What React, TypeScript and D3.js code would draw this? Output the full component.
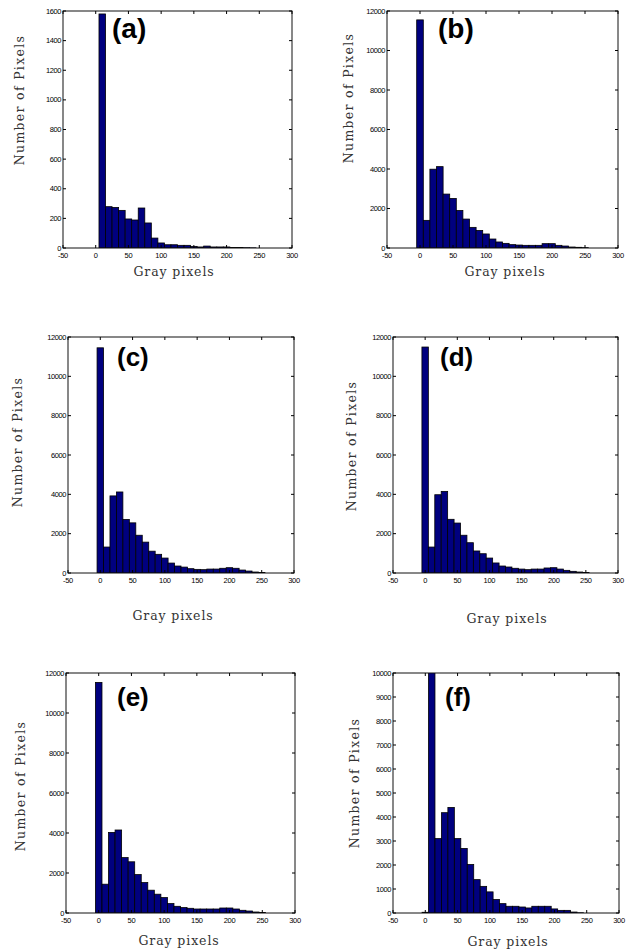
import React from "react";
import * as d3 from "d3";

// histogram bin centres (gray level), shared by all panels
const binCenters = [0, 10, 20, 30, 40, 50, 60, 70, 80, 90, 100, 110, 120, 130, 140, 150, 160, 170, 180, 190, 200, 210, 220, 230, 240, 250];

const countsA = [0, 1580, 279, 274, 254, 196, 189, 270, 169, 67, 34, 22, 22, 18, 18, 11, 7, 13, 7, 7, 7, 3, 3, 2, 1, 0];
const countsB = [11550, 1400, 3990, 4120, 2730, 2510, 1900, 1465, 1045, 890, 710, 455, 305, 235, 170, 150, 135, 135, 135, 220, 220, 135, 100, 50, 35, 17];
const countsC = [11450, 1320, 3920, 4120, 2720, 2550, 1920, 1570, 1110, 950, 760, 505, 355, 300, 220, 185, 170, 200, 200, 240, 270, 240, 150, 100, 50, 30];
const countsD = [11490, 1320, 3980, 4150, 2730, 2540, 1920, 1540, 1120, 980, 760, 510, 355, 305, 240, 200, 170, 200, 200, 255, 270, 200, 135, 85, 50, 30];
const countsE = [11530, 1440, 4030, 4150, 2770, 2560, 1920, 1520, 1140, 940, 770, 470, 335, 270, 235, 200, 200, 200, 200, 250, 250, 200, 135, 100, 50, 20];
const countsF = [30, 12500, 3100, 4180, 4400, 3100, 2690, 2020, 1390, 1110, 880, 560, 390, 280, 280, 250, 210, 280, 280, 280, 170, 110, 110, 40, 10, 0];

const xTicks = [-50, 0, 50, 100, 150, 200, 250, 300];
const yTicksA = [0, 200, 400, 600, 800, 1000, 1200, 1400, 1600];
const yTicksBE = [0, 2000, 4000, 6000, 8000, 10000, 12000];
const yTicksF = [0, 1000, 2000, 3000, 4000, 5000, 6000, 7000, 8000, 9000, 10000];

const panelLetters = ["(a)", "(b)", "(c)", "(d)", "(e)", "(f)"];
const xTitle = "Gray pixels";
const yTitle = "Number of Pixels";

const panels = [
  { counts: countsA, yTicks: yTicksA, box: [63, 292, 11, 248], letter: [112, 38, 28], yl: [20, 100], xl: [174, 276] },
  { counts: countsB, yTicks: yTicksBE, box: [387, 618, 11, 248], letter: [438, 38, 28], yl: [349, 98], xl: [505, 276] },
  { counts: countsC, yTicks: yTicksBE, box: [68, 294, 337, 573], letter: [117, 366, 26], yl: [18, 442], xl: [173, 620] },
  { counts: countsD, yTicks: yTicksBE, box: [393, 618, 337, 573], letter: [440, 366, 26], yl: [352, 446], xl: [507, 623] },
  { counts: countsE, yTicks: yTicksBE, box: [66, 295, 673, 913], letter: [117, 706, 26], yl: [21, 786], xl: [179, 945] },
  { counts: countsF, yTicks: yTicksF, box: [393, 619, 673, 913], letter: [445, 706, 26], yl: [355, 783], xl: [508, 946] },
];

const BAR = "#00007f";
const tickFont = "'Liberation Sans', Arial, sans-serif";
const serif = "'DejaVu Serif', serif";

function Hist({ p, i }) {
  const [l, r, t, b] = p.box;
  const x = d3.scaleLinear().domain([-50, 300]).range([l, r]);
  const yMax = p.yTicks[p.yTicks.length - 1];
  const y = d3.scaleLinear().domain([0, yMax]).range([b, t]);
  const half = 5;
  const tl = 3;
  return (
    <g>
      <clipPath id={"clip" + i}>
        <rect x={l} y={t} width={r - l} height={b - t} />
      </clipPath>
      <g clipPath={`url(#clip${i})`}>
        {binCenters.map((c, k) =>
          p.counts[k] > 0 ? (
            <rect
              key={k}
              x={x(c - half)}
              y={y(p.counts[k])}
              width={x(c + half) - x(c - half)}
              height={b - y(p.counts[k])}
              fill={BAR}
              stroke="#000"
              strokeWidth={0.8}
            />
          ) : null
        )}
      </g>
      <rect x={l} y={t} width={r - l} height={b - t} fill="none" stroke="#111" strokeWidth={1} />
      {xTicks.map((v) => (
        <g key={"x" + v}>
          <line x1={x(v)} x2={x(v)} y1={b} y2={b - tl} stroke="#000" />
          <line x1={x(v)} x2={x(v)} y1={t} y2={t + tl} stroke="#000" />
          <text x={x(v)} y={b + 10} fontSize={7.5} fontFamily={tickFont} textAnchor="middle" letterSpacing={-0.3}>
            {v}
          </text>
        </g>
      ))}
      {p.yTicks.map((v) => (
        <g key={"y" + v}>
          <line x1={l} x2={l + tl} y1={y(v)} y2={y(v)} stroke="#000" />
          <line x1={r} x2={r - tl} y1={y(v)} y2={y(v)} stroke="#000" />
          <text x={l - 2} y={y(v) + 2.5} fontSize={7.5} fontFamily={tickFont} textAnchor="end" letterSpacing={-0.4}>
            {v}
          </text>
        </g>
      ))}
      <text x={p.letter[0]} y={p.letter[1]} fontSize={p.letter[2]} fontWeight="bold" fontFamily={tickFont}>
        {panelLetters[i]}
      </text>
      <text
        transform={`translate(${p.yl[0]},${p.yl[1]}) rotate(-90)`}
        textAnchor="middle"
        dominantBaseline="middle"
        fontSize={12.5}
        letterSpacing={1.3}
        fontFamily={serif}
        fill="#333"
      >
        {yTitle}
      </text>
      <text x={p.xl[0]} y={p.xl[1]} textAnchor="middle" fontSize={12.5} letterSpacing={0.9} fontFamily={serif} fill="#333">
        {xTitle}
      </text>
    </g>
  );
}

export default function App() {
  return (
    <svg width={632} height={952} style={{ position: "absolute", left: 0, top: 0, background: "#fff" }}>
      <rect width={632} height={952} fill="#fff" />
      {panels.map((p, i) => (
        <Hist key={i} p={p} i={i} />
      ))}
    </svg>
  );
}
